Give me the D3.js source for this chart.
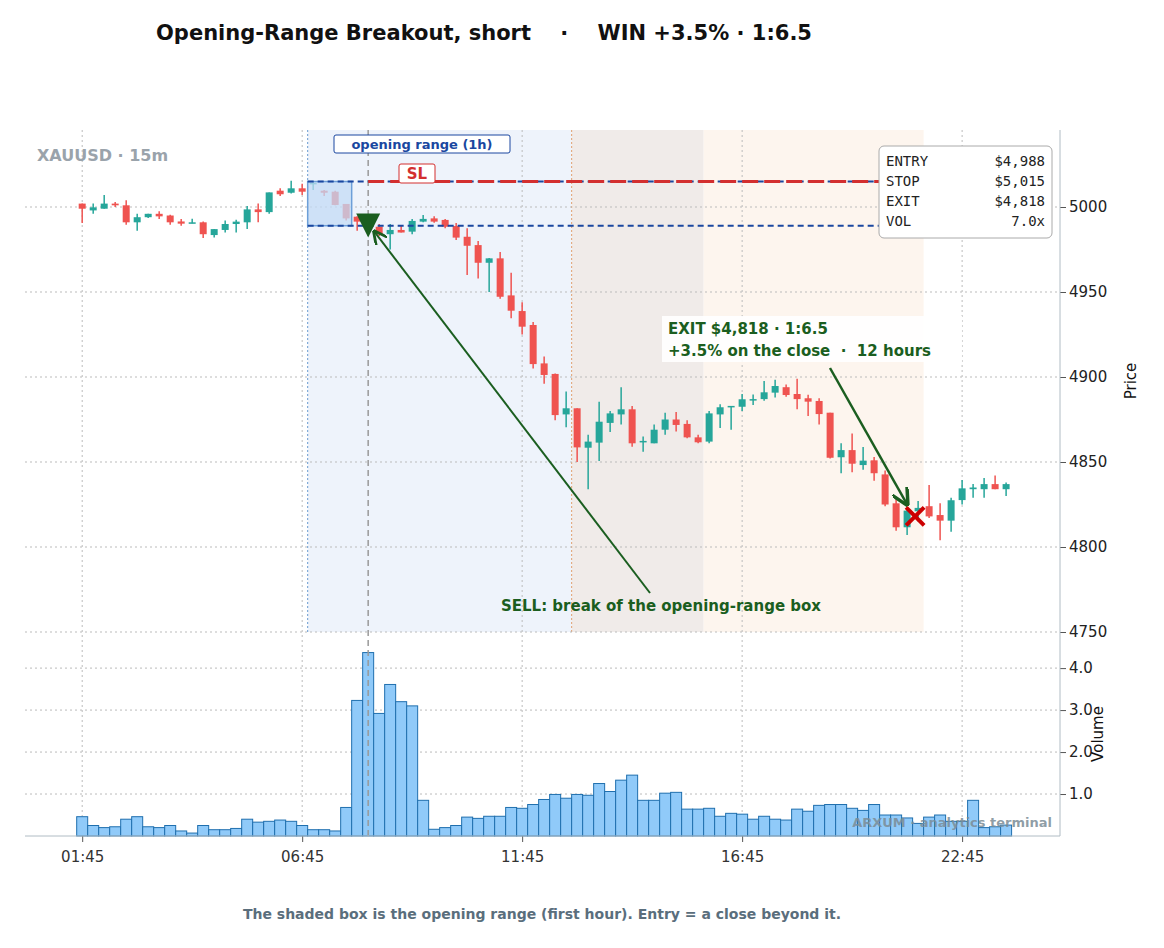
<!DOCTYPE html>
<html>
<head>
<meta charset="utf-8">
<script src="https://cdn.jsdelivr.net/npm/d3@7"></script>
<style>
  body { margin: 0; background: #fff; font-family: "DejaVu Sans", sans-serif; }
</style>
</head>
<body>
<svg id="chart" width="1164" height="948"></svg>
<script>
// candles, 15m bars
const opens  = [5002,4998,4999,5002,5001,4991,4994,4996,4995,4991.5,4990.5,4991,4983.5,4986.5,4990,4991,4998.6,4997,5009.6,5008.4,5011,5013.8,5009.6,5009,5001.8,4994.3,4991.5,4988.4,4984,4986.5,4985.5,4991.4,4993.3,4992.4,4988.8,4982.5,4977.6,4967.2,4969.8,4948,4938.8,4930.6,4908,4901.8,4878,4881.6,4858.4,4861.4,4873,4878,4881,4862,4861,4869,4875,4872.4,4864.5,4862,4878,4882.2,4882.5,4886.5,4887,4890.8,4894,4890,4887.5,4885.9,4879,4852.8,4857,4848.2,4851,4842.7,4825.7,4811.6,4821,4824,4818.8,4815.5,4827.6,4834,4834,4837,4834];
const closes = [4999,4999.8,5002,5001,4991,4994,4996,4994.5,4991,4990.2,4991,4984,4987,4990,4991.4,4998.6,4997,5008.6,5007.5,5011,5009,5014.2,5008.4,5001.2,4993.3,4991.4,4989,4984,4986.5,4985,4991.8,4993,4991.4,4988.4,4982,4977.2,4967.2,4969.8,4947.2,4939,4929.6,4907.6,4901.2,4877.6,4881.6,4858.6,4862,4873.7,4878.6,4881,4861,4862.4,4869,4875,4871.8,4864.5,4861.6,4878.6,4882.2,4883,4886.9,4887,4891,4894.7,4889.4,4887,4885.5,4878.2,4852.5,4857,4849,4850.8,4843.4,4825,4811.6,4821.4,4823,4818,4815.5,4827.5,4834.5,4835,4837,4834,4837];
const highs  = [5002,5002,5007,5003,5004,4996,4996,4997.5,4995.5,4993,4993.1,4991.5,4987,4992,4992.5,5000.6,5002,5008.6,5011,5015.5,5013.7,5014.5,5010,5009.5,5001.8,4994.5,4992,4990,4990,4989,4993,4995.3,4994.5,4993,4990.6,4987.5,4980,4970,4973.5,4961.4,4944,4932.4,4912,4902,4891.4,4881.6,4866,4885.5,4880,4894,4883,4865,4872,4879,4879.4,4874.6,4866,4880,4884,4883,4890,4889.7,4897.6,4898.4,4895.6,4899,4889.6,4887.5,4879,4861,4866.7,4858.8,4852.9,4845,4829,4823,4827,4836.5,4825.7,4829,4839.4,4837,4840.6,4842,4838];
const lows   = [4990.6,4996,4999,5000,4989.6,4986,4993.5,4993,4989.5,4989,4990.5,4981.7,4982,4985,4985,4987,4991,4996,5006.5,5008,5007,5010,5006.5,5001,4992,4986,4984,4983,4975,4985,4984,4991,4990.8,4987.5,4980.6,4960,4958,4950,4946,4934.5,4925,4905,4896,4874.5,4870.4,4850,4834,4850.6,4867.6,4872,4859,4856,4861,4866,4868,4864,4861,4861,4870,4869,4880,4883.6,4886,4888,4888.4,4881,4877,4872,4852,4843.4,4844,4845.5,4839,4824,4809.6,4807,4815,4817,4804,4809,4825,4829,4829,4834,4830];
const volumes = [0.46,0.25,0.2,0.22,0.4,0.46,0.22,0.2,0.25,0.12,0.07,0.25,0.15,0.15,0.18,0.4,0.33,0.35,0.38,0.35,0.25,0.15,0.15,0.12,0.68,3.23,4.37,2.92,3.61,3.2,3.1,0.85,0.16,0.2,0.25,0.45,0.42,0.47,0.47,0.68,0.66,0.75,0.87,0.99,0.9,0.99,0.97,1.25,1.06,1.33,1.45,0.85,0.85,1.02,1.04,0.64,0.64,0.66,0.47,0.54,0.52,0.4,0.47,0.4,0.38,0.64,0.59,0.73,0.75,0.75,0.66,0.61,0.75,0.5,0.5,0.43,0.3,0.45,0.5,0.35,0.35,0.85,0.2,0.22,0.26];
const tickIdx = [0, 20, 40, 60, 80];
const tickLabels = ['01:45', '06:45', '11:45', '16:45', '22:45'];
const priceTicks = [4750, 4800, 4850, 4900, 4950, 5000];
const volTicks = [1, 2, 3, 4];

// trade
const rangeHigh = 5015, rangeLow = 4989;
const entryIdx = 26, entryPrice = 4988;
const exitIdx = 76, exitPrice = 4818;
const boxStart = 20.5, boxEnd = 24.5, phase2 = 44.5, phase3 = 56.5, phaseEnd = 76.5;
const infoRows = [['ENTRY', '$4,988'], ['STOP', '$5,015'], ['EXIT', '$4,818'], ['VOL', '7.0x']];

const up = '#26a69a', down = '#ef5350';
const svg = d3.select('#chart');
const L = 25, R = 1060, pTop = 130, pBot = 632, vBot = 836;

const x = d3.scaleLinear().domain([-5.2, 88.9]).range([L, R]);
const y = d3.scaleLinear().domain([4750, 5045.3]).range([pBot, pTop]);
const yv = d3.scaleLinear().domain([0, 4.86]).range([vBot, pBot]);
const bw = 7;

// title
svg.append('text').attr('x', 484).attr('y', 40).attr('text-anchor', 'middle')
  .attr('font-size', 21).attr('font-weight', 'bold').attr('fill', '#111')
  .attr('xml:space', 'preserve')
  .text('Opening-Range Breakout, short    ·    WIN +3.5% · 1:6.5');

// shaded phases
const shade = [[boxStart, phase2, '#eef3fb'], [phase2, phase3, '#f0ebe9'], [phase3, phaseEnd, '#fdf5ee']];
svg.selectAll('rect.shade').data(shade).enter().append('rect')
  .attr('x', d => x(d[0])).attr('width', d => x(d[1]) - x(d[0]))
  .attr('y', pTop).attr('height', pBot - pTop).attr('fill', d => d[2]);
svg.append('line').attr('x1', x(phase2)).attr('x2', x(phase2)).attr('y1', pTop).attr('y2', pBot)
  .attr('stroke', '#e0a070').attr('stroke-dasharray', '2,2');
svg.append('line').attr('x1', x(boxStart)).attr('x2', x(boxStart)).attr('y1', pTop).attr('y2', pBot)
  .attr('stroke', '#6a9ad0').attr('stroke-dasharray', '2,2');

// grid
const grid = svg.append('g').attr('stroke', '#bbb').attr('stroke-dasharray', '2,3');
priceTicks.forEach(t => grid.append('line').attr('x1', L).attr('x2', R).attr('y1', y(t)).attr('y2', y(t)));
volTicks.forEach(t => grid.append('line').attr('x1', L).attr('x2', R).attr('y1', yv(t)).attr('y2', yv(t)));
tickIdx.forEach(t => grid.append('line').attr('x1', x(t)).attr('x2', x(t)).attr('y1', pTop).attr('y2', vBot));

// volume
svg.selectAll('rect.vol').data(volumes).enter().append('rect')
  .attr('x', (d, i) => x(i) - 5.5).attr('width', 11)
  .attr('y', d => yv(d)).attr('height', d => vBot - yv(d))
  .attr('fill', '#90caf9').attr('stroke', '#1f6fae').attr('stroke-width', 1);

// entry vertical
svg.append('line').attr('x1', x(entryIdx)).attr('x2', x(entryIdx)).attr('y1', pTop).attr('y2', vBot)
  .attr('stroke', '#999').attr('stroke-width', 1.5).attr('stroke-dasharray', '6,4');

// candles
const c = svg.selectAll('g.candle').data(opens).enter().append('g');
c.append('line').attr('x1', (d, i) => x(i)).attr('x2', (d, i) => x(i))
  .attr('y1', (d, i) => y(highs[i])).attr('y2', (d, i) => y(lows[i]))
  .attr('stroke', (d, i) => closes[i] >= d ? up : down).attr('stroke-width', 1.5);
c.append('rect').attr('x', (d, i) => x(i) - bw / 2).attr('width', bw)
  .attr('y', (d, i) => y(Math.max(d, closes[i])))
  .attr('height', (d, i) => Math.max(1.5, Math.abs(y(d) - y(closes[i]))))
  .attr('fill', (d, i) => closes[i] >= d ? up : down);

// opening range box
svg.append('rect').attr('x', x(boxStart)).attr('width', x(boxEnd) - x(boxStart))
  .attr('y', y(rangeHigh)).attr('height', y(rangeLow) - y(rangeHigh))
  .attr('fill', '#c3dbf5').attr('fill-opacity', 0.75).attr('stroke', '#6d9fd8').attr('stroke-width', 1.5);

// levels
svg.append('line').attr('x1', x(boxStart)).attr('x2', 880).attr('y1', y(rangeLow)).attr('y2', y(rangeLow))
  .attr('stroke', '#1a47a0').attr('stroke-width', 2).attr('stroke-dasharray', '6,4');
svg.append('line').attr('x1', x(boxStart)).attr('x2', 880).attr('y1', y(rangeHigh)).attr('y2', y(rangeHigh))
  .attr('stroke', '#1a47a0').attr('stroke-width', 2).attr('stroke-dasharray', '6,4');
svg.append('line').attr('x1', x(entryIdx)).attr('x2', 880).attr('y1', y(rangeHigh)).attr('y2', y(rangeHigh))
  .attr('stroke', '#d32f2f').attr('stroke-width', 3).attr('stroke-dasharray', '16,6');

// SL label
svg.append('rect').attr('x', 399).attr('y', 164).attr('width', 36).attr('height', 19).attr('rx', 2)
  .attr('fill', '#fff').attr('stroke', '#d32f2f');
svg.append('text').attr('x', 417).attr('y', 179).attr('text-anchor', 'middle')
  .attr('font-size', 15).attr('font-weight', 'bold').attr('fill', '#d32f2f').text('SL');

// opening range label
svg.append('rect').attr('x', 334).attr('y', 135).attr('width', 176).attr('height', 18).attr('rx', 2)
  .attr('fill', '#fff').attr('stroke', '#1a47a0');
svg.append('text').attr('x', 422).attr('y', 148.5).attr('text-anchor', 'middle')
  .attr('font-size', 13).attr('font-weight', 'bold').attr('fill', '#1a47a0').text('opening range (1h)');

// arrows
svg.append('defs').append('marker').attr('id', 'ah').attr('viewBox', '0 0 10 10')
  .attr('refX', 9).attr('refY', 5).attr('markerWidth', 7).attr('markerHeight', 7).attr('orient', 'auto')
  .append('path').attr('d', 'M0,0 L10,5 L0,10').attr('fill', 'none').attr('stroke', '#1b5e20').attr('stroke-width', 2);
svg.append('line').attr('x1', 650).attr('y1', 593).attr('x2', x(entryIdx) + 6).attr('y2', y(entryPrice) + 4)
  .attr('stroke', '#1b5e20').attr('stroke-width', 2).attr('marker-end', 'url(#ah)');
svg.append('line').attr('x1', 830).attr('y1', 368).attr('x2', x(exitIdx) - 11).attr('y2', y(exitPrice) - 12)
  .attr('stroke', '#1b5e20').attr('stroke-width', 2.5).attr('marker-end', 'url(#ah)');

// entry triangle
const tx = x(entryIdx), ty = y(entryPrice);
svg.append('path').attr('d', `M${tx - 12},${ty - 14} L${tx + 12},${ty - 14} L${tx},${ty + 10} Z`)
  .attr('fill', '#1b5e20');

// exit X
const ex = x(exitIdx) - 3, ey = y(exitPrice);
svg.append('path').attr('d', `M${ex - 9},${ey - 9} L${ex + 9},${ey + 9} M${ex - 9},${ey + 9} L${ex + 9},${ey - 9}`)
  .attr('stroke', '#cc0000').attr('stroke-width', 4);

// annotations
svg.append('text').attr('x', 661).attr('y', 611).attr('text-anchor', 'middle')
  .attr('font-size', 15).attr('font-weight', 'bold').attr('fill', '#1b5e20')
  .text('SELL: break of the opening-range box');
svg.append('rect').attr('x', 662).attr('y', 316).attr('width', 300).attr('height', 46).attr('fill', '#fff').attr('fill-opacity', 0.9);
svg.append('text').attr('x', 668).attr('y', 334)
  .attr('font-size', 15).attr('font-weight', 'bold').attr('fill', '#1b5e20').text('EXIT $4,818 · 1:6.5');
svg.append('text').attr('x', 668).attr('y', 356).attr('xml:space', 'preserve')
  .attr('font-size', 15).attr('font-weight', 'bold').attr('fill', '#1b5e20').text('+3.5% on the close  ·  12 hours');

// info box
svg.append('rect').attr('x', 879).attr('y', 146).attr('width', 173).attr('height', 92).attr('rx', 5)
  .attr('fill', '#fff').attr('stroke', '#aaa');
infoRows.forEach((r, i) => {
  svg.append('text').attr('x', 886).attr('y', 166 + i * 20).attr('font-family', 'DejaVu Sans Mono')
    .attr('font-size', 14).attr('fill', '#222').text(r[0]);
  svg.append('text').attr('x', 1045).attr('y', 166 + i * 20).attr('text-anchor', 'end').attr('font-family', 'DejaVu Sans Mono')
    .attr('font-size', 14).attr('fill', '#222').text(r[1]);
});

svg.append('text').attr('x', 37).attr('y', 161).attr('font-size', 16).attr('font-weight', 'bold')
  .attr('fill', '#9aa3ab').text('XAUUSD · 15m');

// axes
const axR = svg.append('g').attr('transform', `translate(${R},0)`)
  .call(d3.axisRight(y).tickValues(priceTicks).tickFormat(d3.format('d')).tickSizeOuter(0));
const axV = svg.append('g').attr('transform', `translate(${R},0)`)
  .call(d3.axisRight(yv).tickValues(volTicks).tickSizeOuter(0));
svg.append('line').attr('x1', R).attr('x2', R).attr('y1', pTop).attr('y2', vBot).attr('stroke', '#b0bcc4');
const axX = svg.append('g').attr('transform', `translate(0,${vBot})`)
  .call(d3.axisBottom(x).tickValues(tickIdx).tickFormat((d, i) => tickLabels[i]).tickSizeOuter(0));
svg.append('line').attr('x1', L).attr('x2', R).attr('y1', vBot).attr('y2', vBot).attr('stroke', '#b0bcc4');
[axR, axV, axX].forEach(a => {
  a.select('.domain').remove();
  a.selectAll('line').attr('stroke', '#555');
  a.selectAll('text').attr('font-size', 15).attr('fill', '#222').attr('font-family', 'DejaVu Sans');
});
axX.selectAll('text').attr('dy', '1.1em').attr('fill', '#333');
svg.append('text').attr('transform', 'translate(1136,381) rotate(-90)').attr('text-anchor', 'middle')
  .attr('font-size', 15).attr('fill', '#111').text('Price');
svg.append('text').attr('transform', 'translate(1103,734) rotate(-90)').attr('text-anchor', 'middle')
  .attr('font-size', 15).attr('fill', '#111').text('Volume');

// watermark + footer
svg.append('text').attr('x', 1052).attr('y', 827).attr('text-anchor', 'end').attr('font-size', 13)
  .attr('font-weight', 'bold').attr('fill', '#7b8c96').attr('fill-opacity', 0.85).text('ARXUM · analytics terminal');
svg.append('text').attr('x', 542).attr('y', 919).attr('text-anchor', 'middle').attr('font-size', 14)
  .attr('font-weight', 'bold').attr('fill', '#5a6e7c')
  .text('The shaded box is the opening range (first hour). Entry = a close beyond it.');
</script>
</body>
</html>
